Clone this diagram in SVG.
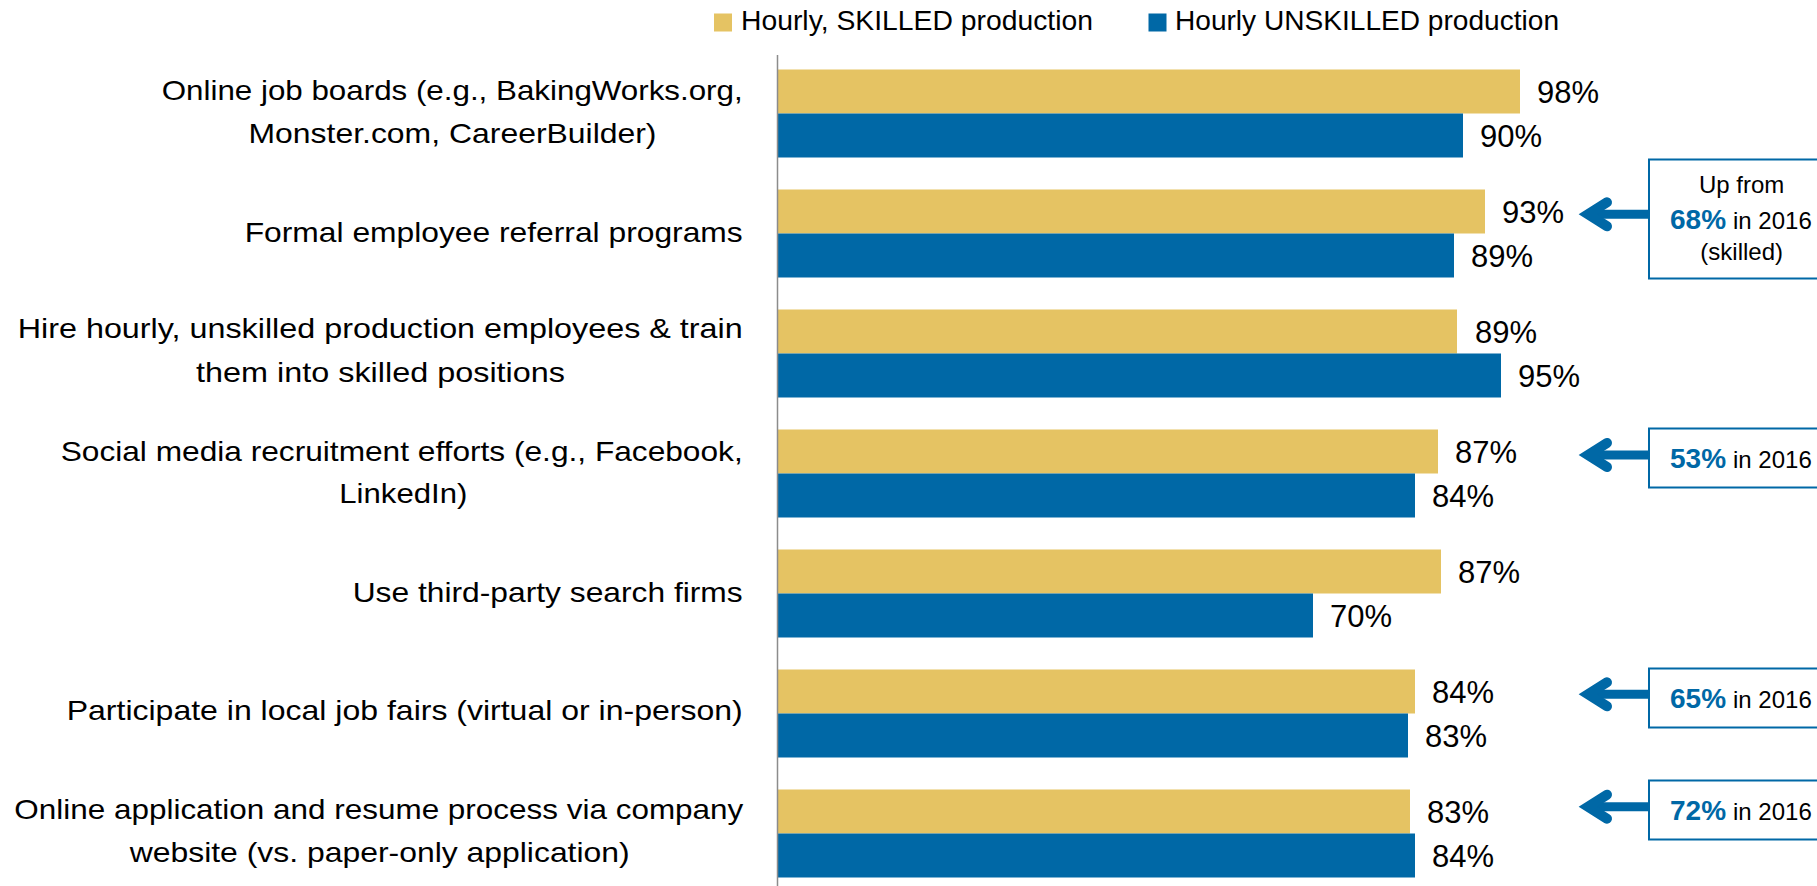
<svg xmlns="http://www.w3.org/2000/svg" width="1817" height="886" viewBox="0 0 1817 886">
<style>
.lbl{font-family:"Liberation Sans",Arial,sans-serif;font-size:28px;fill:#000}
.val{font-family:"Liberation Sans",Arial,sans-serif;font-size:31px;fill:#000}
.sk{fill:#E5C363}
.un{fill:#0068A6}
.box{fill:#fff;stroke:#0068A6;stroke-width:2}
.ct{font-family:"Liberation Sans",Arial,sans-serif;font-size:24px;fill:#000}
.cb{font-family:"Liberation Sans",Arial,sans-serif;font-size:28px;font-weight:bold;fill:#0068A6}
.arr{stroke:#0068A6;stroke-width:9;fill:none}
</style>
<defs>
<marker id="chev" markerUnits="userSpaceOnUse" viewBox="-30 -20 40 40" markerWidth="40" markerHeight="40" refX="0" refY="0" orient="auto" overflow="visible">
<polyline points="-19,-12 0,0 -19,12" fill="none" stroke="#0068A6" stroke-width="10" stroke-linecap="round" stroke-linejoin="miter"/>
</marker>
</defs>
<rect width="1817" height="886" fill="#fff"/>

<g id="legend">
<rect class="sk" x="714" y="13.5" width="18" height="18"/>
<text class="lbl" x="741" y="29.5" textLength="352" lengthAdjust="spacingAndGlyphs">Hourly, SKILLED production</text>
<rect class="un" x="1148.5" y="13.5" width="18" height="18"/>
<text class="lbl" x="1175" y="29.5" textLength="384" lengthAdjust="spacingAndGlyphs">Hourly UNSKILLED production</text>
</g>

<g id="cat1">
<text class="lbl" x="742.7" y="100" text-anchor="end" textLength="581" lengthAdjust="spacingAndGlyphs">Online job boards (e.g., BakingWorks.org,</text>
<text class="lbl" x="452.5" y="143.3" text-anchor="middle" textLength="408" lengthAdjust="spacingAndGlyphs">Monster.com, CareerBuilder)</text>
<rect class="sk" x="777" y="69.5" width="743" height="44"/>
<rect class="un" x="777" y="113.5" width="686" height="44"/>
<text class="val" x="1537" y="103">98%</text>
<text class="val" x="1480" y="147">90%</text>
</g>

<g id="cat2">
<text class="lbl" x="742.7" y="241.7" text-anchor="end" textLength="498" lengthAdjust="spacingAndGlyphs">Formal employee referral programs</text>
<rect class="sk" x="777" y="189.5" width="708" height="44"/>
<rect class="un" x="777" y="233.5" width="677" height="44"/>
<text class="val" x="1502" y="223">93%</text>
<text class="val" x="1471" y="267">89%</text>
</g>

<g id="cat3">
<text class="lbl" x="742.7" y="338.3" text-anchor="end" textLength="725" lengthAdjust="spacingAndGlyphs">Hire hourly, unskilled production employees &amp; train</text>
<text class="lbl" x="380.5" y="381.7" text-anchor="middle" textLength="369" lengthAdjust="spacingAndGlyphs">them into skilled positions</text>
<rect class="sk" x="777" y="309.5" width="680" height="44"/>
<rect class="un" x="777" y="353.5" width="724" height="44"/>
<text class="val" x="1475" y="343">89%</text>
<text class="val" x="1518" y="387">95%</text>
</g>

<g id="cat4">
<text class="lbl" x="742.7" y="460.7" text-anchor="end" textLength="682" lengthAdjust="spacingAndGlyphs">Social media recruitment efforts (e.g., Facebook,</text>
<text class="lbl" x="403.3" y="502.7" text-anchor="middle" textLength="128" lengthAdjust="spacingAndGlyphs">LinkedIn)</text>
<rect class="sk" x="777" y="429.5" width="661" height="44"/>
<rect class="un" x="777" y="473.5" width="638" height="44"/>
<text class="val" x="1455" y="463">87%</text>
<text class="val" x="1432" y="507">84%</text>
</g>

<g id="cat5">
<text class="lbl" x="742.7" y="601.7" text-anchor="end" textLength="390" lengthAdjust="spacingAndGlyphs">Use third-party search firms</text>
<rect class="sk" x="777" y="549.5" width="664" height="44"/>
<rect class="un" x="777" y="593.5" width="536" height="44"/>
<text class="val" x="1458" y="583">87%</text>
<text class="val" x="1330" y="627">70%</text>
</g>

<g id="cat6">
<text class="lbl" x="742.7" y="720" text-anchor="end" textLength="676" lengthAdjust="spacingAndGlyphs">Participate in local job fairs (virtual or in-person)</text>
<rect class="sk" x="777" y="669.5" width="638" height="44"/>
<rect class="un" x="777" y="713.5" width="631" height="44"/>
<text class="val" x="1432" y="703">84%</text>
<text class="val" x="1425" y="747">83%</text>
</g>

<g id="cat7">
<text class="lbl" x="743.3" y="819" text-anchor="end" textLength="729" lengthAdjust="spacingAndGlyphs">Online application and resume process via company</text>
<text class="lbl" x="379.7" y="861.7" text-anchor="middle" textLength="500" lengthAdjust="spacingAndGlyphs">website (vs. paper-only application)</text>
<rect class="sk" x="777" y="789.5" width="633" height="44"/>
<rect class="un" x="777" y="833.5" width="638" height="44"/>
<text class="val" x="1427" y="823">83%</text>
<text class="val" x="1432" y="867">84%</text>
</g>

<g id="axis">
<line x1="777.5" y1="55" x2="777.5" y2="886" stroke="#8c8c8c" stroke-width="1.5"/>
</g>

<g id="callout1">
<rect class="box" x="1649" y="159.5" width="200" height="119"/>
<text class="ct" x="1741.7" y="192.7" text-anchor="middle">Up from</text>
<text class="cb" x="1670" y="229.3">68%</text>
<text class="ct" x="1733" y="229.3">in 2016</text>
<text class="ct" x="1741.7" y="260" text-anchor="middle" font-size="22">(skilled)</text>
</g>

<g id="callout2">
<rect class="box" x="1649" y="428.5" width="200" height="59"/>
<text class="cb" x="1670" y="468.3">53%</text>
<text class="ct" x="1733" y="468.3">in 2016</text>
</g>

<g id="callout3">
<rect class="box" x="1649" y="668.5" width="200" height="59"/>
<text class="cb" x="1670" y="708.3">65%</text>
<text class="ct" x="1733" y="708.3">in 2016</text>
</g>

<g id="callout4">
<rect class="box" x="1649" y="780.5" width="200" height="59"/>
<text class="cb" x="1670" y="820">72%</text>
<text class="ct" x="1733" y="820">in 2016</text>
</g>

<g id="connectors">
<line class="arr" x1="1648" y1="214.3" x2="1588" y2="214.3" marker-end="url(#chev)"/>
<line class="arr" x1="1648" y1="455" x2="1588" y2="455" marker-end="url(#chev)"/>
<line class="arr" x1="1648" y1="694.3" x2="1588" y2="694.3" marker-end="url(#chev)"/>
<line class="arr" x1="1648" y1="806.7" x2="1588" y2="806.7" marker-end="url(#chev)"/>
</g>
</svg>
